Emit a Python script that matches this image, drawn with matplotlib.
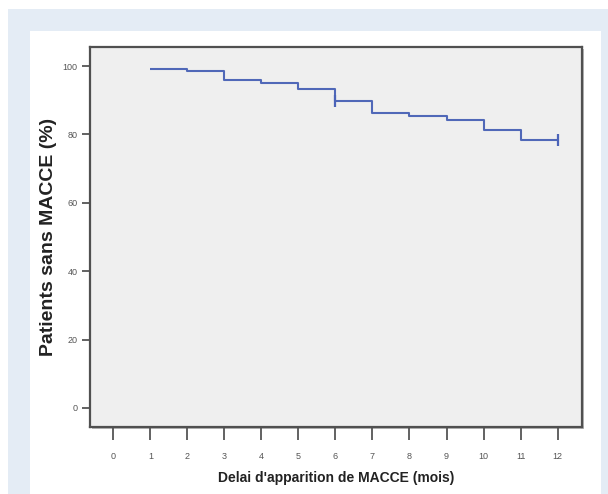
import matplotlib
matplotlib.use("Agg")
import matplotlib.pyplot as plt
from matplotlib.patches import Rectangle

# Data
months = [1, 2, 3, 4, 5, 6, 7, 8, 9, 10, 11, 12]
survival = [99.3, 98.5, 95.8, 95.0, 93.2, 89.8, 86.4, 85.4, 84.2, 81.2, 78.5, 78.5]
censor_months = [6, 12]
censor_values = [89.8, 78.5]
x_ticks = list(range(0, 13))
y_ticks = [0, 20, 40, 60, 80, 100]

W, H = 608, 494
fig = plt.figure(figsize=(W / 100, H / 100), dpi=100)
fig.patch.set_facecolor("white")

def fr(x0, y0, x1, y1):
    return (x0 / W, 1 - y1 / H, (x1 - x0) / W, (y1 - y0) / H)

# light blue frame and white panel
bx = fr(8, 9, 608, 494)
fig.patches.append(Rectangle(bx[:2], bx[2], bx[3], transform=fig.transFigure,
                             facecolor="#e4ecf5", edgecolor="none", zorder=-30))
wx = fr(30, 31, 601, 494)
fig.patches.append(Rectangle(wx[:2], wx[2], wx[3], transform=fig.transFigure,
                             facecolor="white", edgecolor="none", zorder=-20))
# shadow
sx = fr(92, 49, 584, 429)
fig.patches.append(Rectangle(sx[:2], sx[2], sx[3], transform=fig.transFigure,
                             facecolor="#b8b8b8", edgecolor="none", zorder=-10))

ax = fig.add_axes(fr(90, 47, 582, 427))
ax.set_facecolor("#efefef")

ax.step(months, survival, where="post", color="#5068b8", lw=1.5, solid_capstyle="butt")
ax.plot(censor_months, censor_values, linestyle="none", marker="|", markersize=8,
        markeredgewidth=1.6, color="#4b63b8")

ax.set_xlim(-0.63, 12.66)
ax.set_ylim(-5.6, 105.6)
ax.set_xticks(x_ticks)
ax.set_yticks(y_ticks)
ax.set_xticklabels([str(v) for v in x_ticks])
ax.set_yticklabels([str(v) for v in y_ticks])

for lab in ax.get_xticklabels() + ax.get_yticklabels():
    lab.set_fontfamily(["Liberation Sans", "DejaVu Sans"])
    lab.set_fontsize(6.5)
    lab.set_color("#555555")

ax.tick_params(axis="x", direction="out", length=9, width=1.3, color="#555555", pad=9)
ax.tick_params(axis="y", direction="out", length=6, width=1.3, color="#555555", pad=3)

for s in ax.spines.values():
    s.set_color("#505050")
    s.set_linewidth(1.6)

ax.set_xlabel("Delai d'apparition de MACCE (mois)",
              fontfamily=["Liberation Sans", "DejaVu Sans"], fontweight="bold",
              fontsize=10, color="#222222", labelpad=7)
ax.set_ylabel("Patients sans MACCE (%)",
              fontfamily=["Liberation Sans", "DejaVu Sans"], fontweight="bold",
              fontsize=14, color="#222222", labelpad=4)

fig.savefig("out.png", dpi=100)
